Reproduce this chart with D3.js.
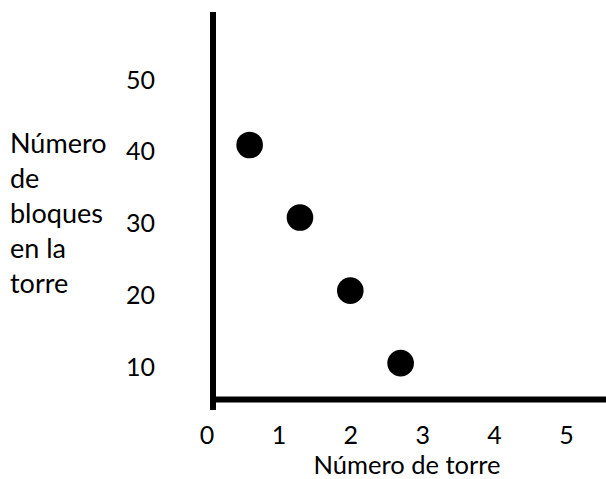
<!DOCTYPE html>
<html>
<head>
<meta charset="utf-8">
<script src="https://cdn.jsdelivr.net/npm/d3@7"></script>
<style>
  html, body { margin: 0; padding: 0; background: #fff; }
  svg { display: block; }
  text { font-family: Lato, "Open Sans", sans-serif; fill: #000; }
</style>
</head>
<body>
<svg id="chart" width="606" height="479"></svg>
<script>
// Data
const towerNumber = [0.6, 1.3, 2.0, 2.7];
const blocks = [40.8, 30.7, 20.5, 10.4];
const xTicks = [0, 1, 2, 3, 4, 5];
const yTicks = [10, 20, 30, 40, 50];
const xTitle = "Número de torre";
const yTitleLines = ["Número", "de", "bloques", "en la", "torre"];

const W = 606, H = 479;
const svg = d3.select("#chart");

const x = d3.scaleLinear().domain([0, 5]).range([206.5, 566]);
const y = d3.scaleLinear().domain([10, 50]).range([366, 79]);

const tickFont = 25;
const xTitleFont = 25.5;
const yTitleFont = 27;

// Y tick labels
const gy = svg.append("g")
  .attr("transform", "translate(155,0)")
  .call(d3.axisLeft(y).tickValues(yTicks).tickSize(0).tickPadding(0).tickFormat(d3.format("d")));
gy.select(".domain").remove();
gy.selectAll("text")
  .attr("dy", "0.36em")
  .style("font-size", tickFont + "px")
  .style("font-family", "Lato, 'Open Sans', sans-serif")
  .attr("fill", "#000");

// X tick labels
const gx = svg.append("g")
  .attr("transform", "translate(0,426.5)")
  .call(d3.axisBottom(x).tickValues(xTicks).tickSize(0).tickPadding(0).tickFormat(d3.format("d")));
gx.select(".domain").remove();
gx.selectAll("text")
  .style("font-size", tickFont + "px")
  .style("font-family", "Lato, 'Open Sans', sans-serif")
  .attr("fill", "#000");

// Axis lines (hand-drawn style)
svg.append("line")
  .attr("x1", 213).attr("x2", 213)
  .attr("y1", 12).attr("y2", 410)
  .attr("stroke", "#000").attr("stroke-width", 6);
svg.append("line")
  .attr("x1", 210).attr("x2", W)
  .attr("y1", 399.5).attr("y2", 399.5)
  .attr("stroke", "#000").attr("stroke-width", 6);

// Points
svg.append("g").selectAll("circle")
  .data(towerNumber.map((t, i) => ({ t, b: blocks[i] })))
  .join("circle")
  .attr("cx", d => x(d.t))
  .attr("cy", d => y(d.b))
  .attr("r", 13.3)
  .attr("fill", "#000");

// X title
svg.append("text")
  .attr("x", 407).attr("y", 473.5)
  .attr("text-anchor", "middle")
  .style("font-size", xTitleFont + "px")
  .text(xTitle);

// Y title (multi-line)
svg.append("text")
  .selectAll("tspan")
  .data(yTitleLines)
  .join("tspan")
  .attr("x", 10)
  .attr("y", (d, i) => 153 + i * 35)
  .style("font-size", yTitleFont + "px")
  .text(d => d);
</script>
</body>
</html>
